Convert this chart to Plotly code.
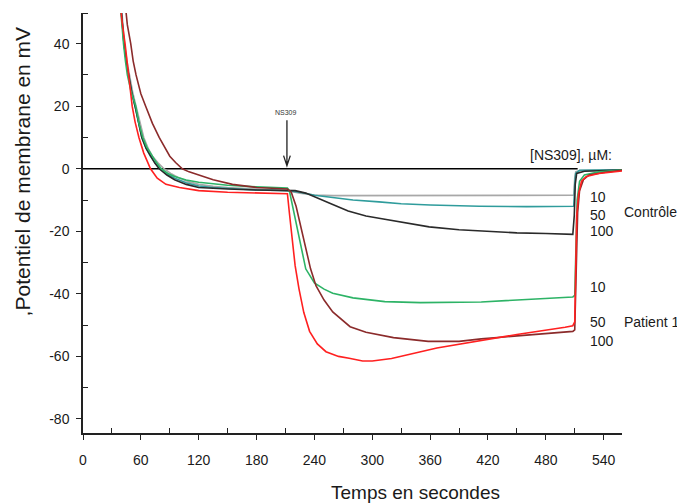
import plotly.graph_objects as go

# ---- data ----
t_ctrl10 = [39, 41, 43, 45.5, 48, 51.5, 55, 59, 63, 67.5, 72, 78, 84, 92, 100, 110, 120, 135, 150, 180, 212, 225, 240, 260, 300, 400, 508, 509, 510, 511, 515, 530, 559]
v_ctrl10 = [55, 47, 40, 34.5, 30, 24.5, 20, 14.5, 10, 6.5, 4, 1.8, 0, -1.7, -3, -4.2, -5, -5.6, -6, -6.5, -7, -7.8, -8.4, -8.6, -8.6, -8.6, -8.6, -8.5, -3, -1, -0.6, -0.5, -0.3]

t_ctrl50 = [38.5, 40.5, 42.5, 45, 47, 50.5, 54, 57.5, 61, 65.5, 70, 75, 80, 87, 95, 107, 120, 135, 150, 180, 212, 225, 240, 259, 280, 307, 330, 360, 411, 460, 508, 509, 510, 511, 515, 559]
v_ctrl50 = [55, 47, 40, 34, 30, 24.5, 20, 14.5, 10, 6.5, 4, 1.8, 0, -1.7, -3, -4.5, -5.5, -6, -6.3, -6.8, -7, -7.5, -8.5, -9.3, -10, -10.6, -11.2, -11.6, -12, -12.1, -12.2, -12, -5, -1.5, -0.5, -0.3]

t_ctrl100 = [38.5, 40.5, 42.5, 45, 47, 50.5, 54, 57.5, 61, 65.5, 70, 74.5, 79, 87, 95, 107, 120, 135, 150, 180, 212, 220, 231, 245, 259, 275, 293.5, 310, 328, 359, 390, 411, 450, 480, 508, 509.5, 510.5, 512, 520, 559]
v_ctrl100 = [55, 47, 40, 34, 30, 24.5, 20, 14.5, 10, 6.5, 4, 1.8, 0, -2, -3.5, -5, -6, -6.3, -6.5, -6.8, -7, -7, -7.8, -9.5, -11.4, -13.5, -15.1, -16, -16.9, -18.6, -19.5, -19.9, -20.5, -20.7, -21, -15, -5, -1.5, -0.8, -0.4]

t_pat10 = [38, 40, 42, 44, 46, 50, 54.7, 58, 62, 66, 70, 75, 81, 88, 95, 107, 120, 135, 150, 180, 212, 214, 218, 224, 231, 240, 250, 259, 280, 313, 350, 413, 450, 480, 508, 510, 511, 512.5, 515, 520, 535, 559]
v_pat10 = [55, 47, 40, 34.5, 30, 24.5, 20, 14.5, 10, 7, 5, 2.5, 0, -1.5, -2.5, -3.6, -4.3, -4.9, -5.3, -5.8, -6.2, -7, -13, -22.5, -32, -36.5, -38.5, -39.8, -41.3, -42.5, -42.8, -42.6, -42, -41.5, -41, -40.5, -25, -10, -4, -2, -1, -0.4]

t_pat50 = [43, 46, 49.5, 52, 55, 60, 65, 72, 79, 85, 90, 96, 103, 110, 120, 135, 155, 180, 212, 216, 221, 226, 231, 236, 241.6, 250, 259, 277, 293.5, 322, 358, 390, 413, 450, 480, 508, 510, 511.5, 513, 515, 519, 525, 540, 559]
v_pat50 = [55, 46, 40, 34.5, 30, 24, 20, 14.5, 10, 6.5, 4, 2, 0, -1, -2, -3.5, -5, -6, -6.5, -7.5, -12, -19, -25.7, -32, -37.4, -42, -45.8, -50.5, -52.3, -54, -55.2, -55.2, -54.4, -53.5, -52.8, -52, -51.5, -30, -14, -7, -3.5, -2, -1.2, -0.5]

t_pat100 = [38, 40.5, 43.6, 45.5, 47, 49, 51, 54, 58, 63, 66.5, 70, 77, 86, 100, 120, 150, 180, 211, 212, 214, 217, 220, 224, 229, 235, 243, 252, 265, 276, 290, 300, 320, 367, 400, 450, 500, 508, 510, 511, 512, 514, 517, 522, 535, 559]
v_pat100 = [55, 47, 40, 34.5, 30, 24.5, 20, 15, 10, 5, 2.3, 0, -3, -5, -6, -7, -7.5, -7.7, -7.9, -8, -14, -22.5, -31, -38.4, -46, -52, -56, -58.5, -60, -60.6, -61.5, -61.5, -60.7, -57.3, -55.5, -53, -50.7, -50.2, -49, -30, -15, -8, -4, -2.5, -1.5, -0.7]

series_names = ["Contrôle 10", "Contrôle 50", "Contrôle 100", "Patient 1 10", "Patient 1 50", "Patient 1 100"]
series_t = [t_ctrl10, t_ctrl50, t_ctrl100, t_pat10, t_pat50, t_pat100]
series_v = [v_ctrl10, v_ctrl50, v_ctrl100, v_pat10, v_pat50, v_pat100]
series_colors = ["#a8a8a8", "#2f9c9c", "#2a2a2a", "#2db366", "#8b2b2b", "#ff2020"]

x_ticks = [0, 60, 120, 180, 240, 300, 360, 420, 480, 540]
y_ticks = [-80, -60, -40, -20, 0, 20, 40]

FONT = "Liberation Sans, Arial, sans-serif"

fig = go.Figure()

# zero reference line
fig.add_shape(type="line", x0=0, x1=513, y0=0, y1=0, xref="x", yref="y",
              line=dict(color="black", width=1.5), layer="below")

for name, t, v, c in zip(series_names, series_t, series_v, series_colors):
    fig.add_trace(go.Scatter(x=t, y=v, mode="lines", name=name,
                             line=dict(color=c, width=1.6), showlegend=False))

# NS309 arrow
ax_x = 211.5
fig.add_shape(type="path", xref="x", yref="y",
              path=f"M {ax_x},15.5 L {ax_x},1 M {ax_x-3.5},4.2 L {ax_x},1 L {ax_x+3.5},4.2",
              line=dict(color="#222", width=1.3))
fig.add_annotation(x=ax_x - 1, y=18, xref="x", yref="y", text="NS309", showarrow=False,
                   font=dict(size=7, color="#333", family=FONT))

ann = dict(xref="x", yref="y", showarrow=False, xanchor="left", yanchor="middle",
           font=dict(size=14, color="#1a1a1a", family=FONT))
fig.add_annotation(x=461.5, y=4.3, text="[NS309], µM:", **ann)
fig.add_annotation(x=524, y=-9.0, text="10", **ann)
fig.add_annotation(x=524, y=-14.8, text="50", **ann)
fig.add_annotation(x=524, y=-19.9, text="100", **ann)
fig.add_annotation(x=559, y=-13.8, text="Contrôle", **ann)
fig.add_annotation(x=524, y=-37.7, text="10", **ann)
fig.add_annotation(x=524, y=-48.9, text="50", **ann)
fig.add_annotation(x=559, y=-48.9, text="Patient 1", **ann)
fig.add_annotation(x=524, y=-55.0, text="100", **ann)

# axis titles
fig.add_annotation(x=0.616, y=-0.142, xref="paper", yref="paper", text="Temps en secondes",
                   showarrow=False, xanchor="center", yanchor="middle",
                   font=dict(size=19, color="#1a1a1a", family=FONT))
fig.add_annotation(x=-0.112, y=0.622, xref="paper", yref="paper", text=",Potentiel de membrane en mV",
                   showarrow=False, textangle=-90, xanchor="center", yanchor="middle",
                   font=dict(size=21, color="#1a1a1a", family=FONT))

# the page body adds an 8px offset, so the figure is 8px smaller and margins shifted
fig.update_layout(
    width=677, height=496,
    margin=dict(l=75, r=63, t=5, b=71),
    paper_bgcolor="white", plot_bgcolor="white",
    font=dict(family=FONT, size=14, color="#1a1a1a"),
    xaxis=dict(range=[0, 559], tickmode="array", tickvals=x_ticks, ticktext=[str(v) for v in x_ticks],
               showgrid=False, zeroline=False, showline=True, linecolor="#222", linewidth=1.5,
               ticks="outside", ticklen=5, tickwidth=1.2, tickcolor="#222",
               ticklabelstandoff=8, tickfont=dict(size=14),
               minor=dict(tickvals=[30, 90, 150, 210, 270, 330, 390, 450, 510], ticks="inside",
                          ticklen=5, tickwidth=1.2, tickcolor="#222", showgrid=False)),
    yaxis=dict(range=[-84.5, 49.8], tickmode="array", tickvals=y_ticks, ticktext=[str(v) for v in y_ticks],
               showgrid=False, zeroline=False, showline=True, linecolor="#222", linewidth=1.5,
               ticks="outside", ticklen=5, tickwidth=1.2, tickcolor="#222",
               ticklabelstandoff=4, tickfont=dict(size=14),
               minor=dict(tickvals=[-70, -50, -30, -10, 10, 30, 49.8], ticks="inside",
                          ticklen=5, tickwidth=1.2, tickcolor="#222", showgrid=False)),
)

fig.write_html("out.html")
